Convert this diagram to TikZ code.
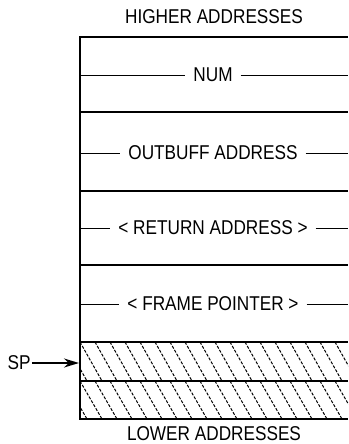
\documentclass[tikz,border=0pt]{standalone}
\usepackage{fontspec}
\setmainfont{Liberation Sans}
\usetikzlibrary{arrows.meta, positioning, calc}
\newcommand{\narrow}[1]{\scalebox{0.86}[1]{#1}}
\tikzset{
    rule/.style={line width=1.6pt},
    heavyrule/.style={line width=2.8pt},
    wall/.style={line width=2.6pt, line cap=rect},
    slot/.style={font=\fontsize{20}{22}\selectfont, inner sep=0pt, outer xsep=8pt},
    midline/.style={line width=0.9pt},
    caption/.style={font=\fontsize{20}{22}\selectfont, inner sep=0pt},
    hatch/.style={line width=1pt, dash pattern=on 3pt off 1.5pt, black},
    ptr/.style={-{Stealth[length=15pt, width=9pt]}, line width=1.8pt},
}

\begin{document}
\begin{tikzpicture}[x=1pt, y=-1pt]
    \useasboundingbox (0,0) rectangle (348,444);

    % headings
    \node[caption] (hi) at (214,17) {\narrow{HIGHER ADDRESSES}};
    \node[caption] (lo) at (214,434) {\narrow{LOWER ADDRESSES}};

    % hatched (unused) slots
    \foreach \top/\bot in {342/381, 381/419} {
        \begin{scope}
            \clip (80,\top) rectangle (348,\bot);
            \foreach \x in {-40,-25,...,360}
                \draw[hatch] (\x,\top) -- ($(\x,\bot)+(22,0)$);
        \end{scope}
    }

    % slot dividers
    \foreach \y in {37,112,191,265}
        \draw[rule] (80,\y) -- (348,\y);
    \foreach \y in {342,381,419}
        \draw[heavyrule] (80,\y) -- (348,\y);
    \draw[wall] (80,37) -- (80,419);

    % stored values
    \foreach \name/\y/\txt in {num/75/NUM, outbuff/153/OUTBUFF ADDRESS,
            ret/228/{< RETURN ADDRESS >}, fp/304/{< FRAME POINTER >}} {
        \node[slot] (\name) at (213,\y) {\narrow{\txt}};
        \coordinate (\name-l) at (81,\y);
        \coordinate (\name-r) at (348,\y);
        \draw[midline] (\name-l) -- (\name.west);
        \draw[midline] (\name.east) -- (\name-r);
    }

    % stack pointer
    \node[caption, outer xsep=1.5pt] (sp) at (19,363) {\narrow{SP}};
    \coordinate (spat) at (79,363);
    \draw[ptr] (sp) -- (spat);
\end{tikzpicture}
\end{document}
